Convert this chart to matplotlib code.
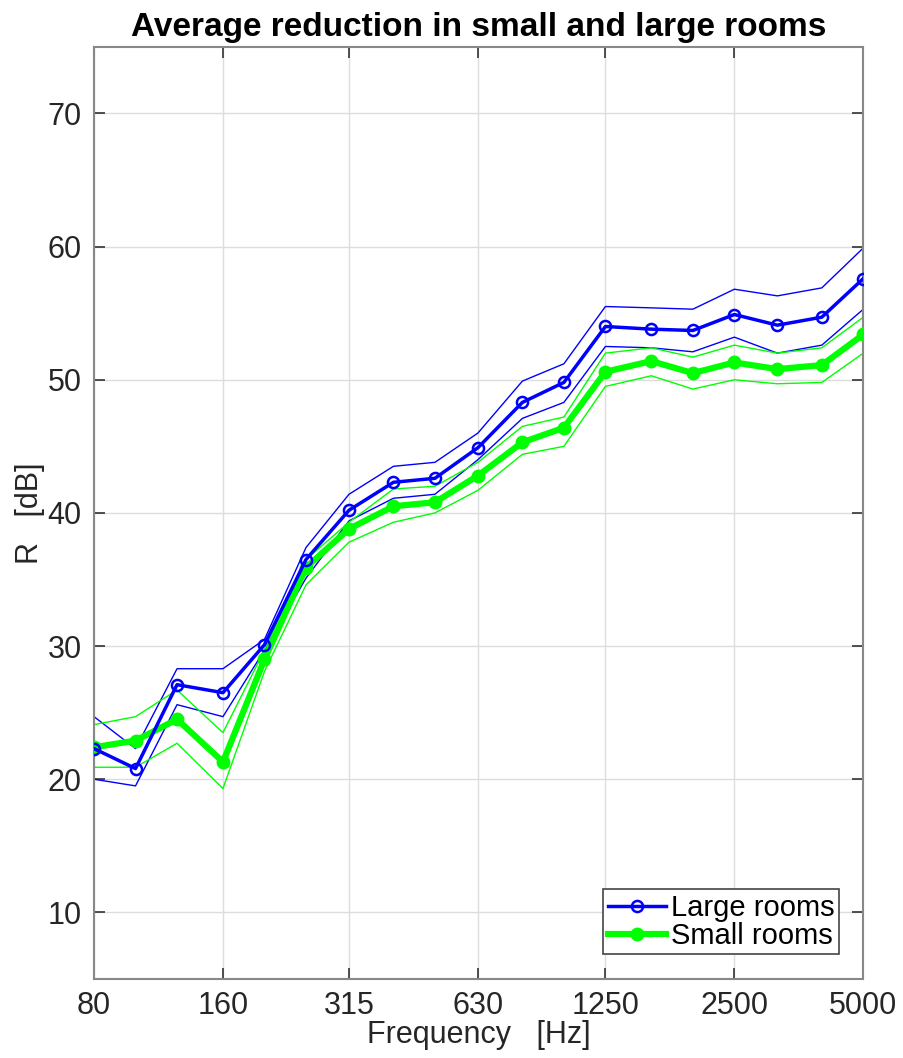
import numpy as np
import matplotlib.pyplot as plt
from matplotlib.ticker import FixedLocator, NullLocator

plt.rcParams['font.family'] = ['Liberation Sans', 'DejaVu Sans']

# third-octave band centre frequencies
freqs = [80, 100, 125, 160, 200, 250, 315, 400, 500, 630, 800, 1000,
         1250, 1600, 2000, 2500, 3150, 4000, 5000]

large_mean = [22.3, 20.8, 27.1, 26.5, 30.1, 36.5, 40.2, 42.3, 42.6, 44.9, 48.3, 49.8,
              54.0, 53.8, 53.7, 54.9, 54.1, 54.7, 57.6]
large_upper = [24.7, 22.3, 28.3, 28.3, 30.5, 37.4, 41.4, 43.5, 43.8, 46.0, 49.9, 51.2,
               55.5, 55.4, 55.3, 56.8, 56.3, 56.9, 59.9]
large_lower = [20.0, 19.5, 25.6, 24.7, 29.7, 35.1, 39.4, 41.1, 41.4, 44.0, 47.1, 48.3,
               52.5, 52.4, 52.1, 53.2, 52.0, 52.6, 55.3]

small_mean = [22.4, 22.9, 24.5, 21.3, 29.0, 35.9, 38.8, 40.5, 40.8, 42.8, 45.3, 46.4,
              50.6, 51.4, 50.5, 51.3, 50.8, 51.1, 53.4]
small_upper = [24.1, 24.7, 26.7, 23.5, 29.7, 36.5, 39.3, 41.8, 42.0, 43.8, 46.5, 47.2,
               52.0, 52.4, 51.7, 52.6, 52.0, 52.4, 54.7]
small_lower = [20.9, 20.9, 22.7, 19.3, 28.1, 34.6, 37.8, 39.3, 40.0, 41.7, 44.4, 45.0,
               49.5, 50.3, 49.3, 50.0, 49.7, 49.8, 52.0]

xticks = [80, 160, 315, 630, 1250, 2500, 5000]
yticks = [10, 20, 30, 40, 50, 60, 70]

blue = '#0000ff'
green = '#00ff00'

fig = plt.figure(figsize=(9.04, 10.58), dpi=100)
ax = fig.add_axes([0.104, 0.0747, 0.851, 0.881])

# spread lines
ax.plot(freqs, large_upper, color=blue, lw=1)
ax.plot(freqs, large_lower, color=blue, lw=1)
ax.plot(freqs, small_upper, color=green, lw=1)
ax.plot(freqs, small_lower, color=green, lw=1)

# means
ax.plot(freqs, large_mean, color=blue, lw=2.5, marker='o', ms=8,
        mfc='none', mec=blue, mew=1.8, label='Large rooms', zorder=4)
ax.plot(freqs, small_mean, color=green, lw=4.5, marker='o', ms=9,
        mfc=green, mec=green, label='Small rooms', zorder=3)

ax.set_xscale('log')
ax.set_xlim(80, 5000)
ax.set_ylim(5, 75)
ax.xaxis.set_major_locator(FixedLocator(xticks))
ax.xaxis.set_minor_locator(NullLocator())
ax.set_xticklabels([str(t) for t in xticks])
ax.set_yticks(yticks)

ax.grid(True, color='#dddddd', lw=1)
ax.set_axisbelow(True)
for s in ax.spines.values():
    s.set_color('#888888')
    s.set_linewidth(1.5)
ax.tick_params(direction='in', top=True, right=True, length=8, width=1.2,
               color='#333333', labelsize=22, labelcolor='#262626', pad=9)

ax.set_xlabel('Frequency   [Hz]', fontsize=22, color='#262626', labelpad=-1)
ax.set_ylabel('R   [dB]', fontsize=22, color='#262626', labelpad=2)
ax.set_title('Average reduction in small and large rooms', fontsize=24,
             fontweight='bold', pad=8)

leg = ax.legend(loc='lower right', fontsize=21, handlelength=2.0,
                handletextpad=0.15, labelspacing=0.0, borderpad=0.15,
                borderaxespad=0.85, fancybox=False, framealpha=1)
leg.get_frame().set_edgecolor('#444444')
leg.get_frame().set_linewidth(1.2)

fig.savefig('out.png', dpi=100)
